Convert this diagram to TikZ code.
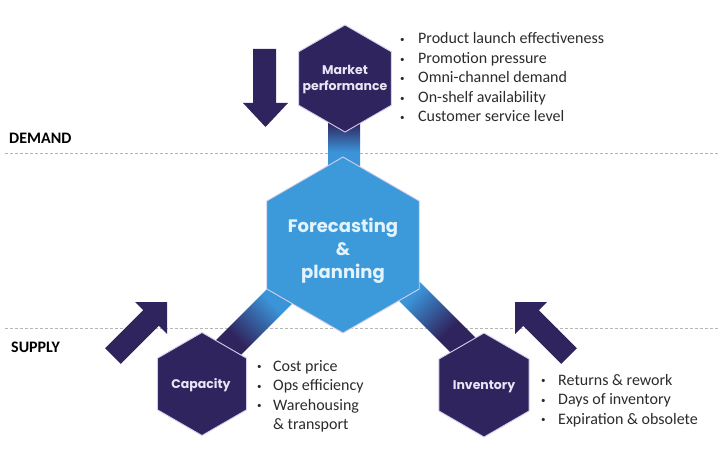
\documentclass[tikz,border=0pt]{standalone}
\usepackage{fontspec}
\setmainfont{Carlito}
\newfontfamily\hexfont{Poppins}
\usetikzlibrary{calc}
\definecolor{dpurple}{HTML}{30245E}
\definecolor{hexblue}{HTML}{3C9ADA}
\definecolor{stemblue}{HTML}{3B93D8}
\definecolor{hexline}{HTML}{D4CFEE}
\definecolor{txt}{HTML}{2B2B2B}
\definecolor{dashgray}{HTML}{B4B4B4}
\definecolor{paletxt}{HTML}{E9E5F5}
\definecolor{paleblue}{HTML}{E4F4FF}
\pgfdeclareverticalshading{bandshade}{100bp}{color(0bp)=(dpurple); color(36bp)=(dpurple); color(60bp)=(stemblue); color(100bp)=(stemblue)}
\pgfdeclareverticalshading{stemshade}{100bp}{color(0bp)=(stemblue); color(42bp)=(stemblue); color(66bp)=(dpurple); color(100bp)=(dpurple)}
\newcommand\smallbullet{\raisebox{1.2pt}{\fontsize{9}{9}\selectfont\textbullet}}
\begin{document}
\begin{tikzpicture}[x=1pt,y=-1pt,
  hexshape/.style={draw=hexline, line width=0.9pt},
  bigarrow/.style={fill=dpurple},
  sepline/.style={draw=dashgray, line width=0.9pt, dash pattern=on 3pt off 2pt},
  side/.style={font=\bfseries\fontsize{16}{19}\selectfont, text=black, anchor=base west, inner sep=0pt},
  item/.style={font=\fontsize{16}{19.5}\selectfont, text=txt, anchor=base west, inner sep=0pt},
  darklbl/.style={font=\hexfont\bfseries\fontsize{12.5}{16}\selectfont, text=paletxt, align=center, inner sep=0pt},
  bluelbl/.style={font=\hexfont\bfseries\fontsize{18}{23}\selectfont, text=paleblue, align=center, inner sep=0pt}
]
\useasboundingbox (0,0) rectangle (720,465);

% separators
\draw[sepline] (5,153) -- (720,153);
\draw[sepline] (5,328) -- (720,328);

% centres
\coordinate (mkt) at (345,78.5);
\coordinate (fc) at (343,245);
\coordinate (cap) at (202,384);
\coordinate (inv) at (484,385);

% gradient links
\shade[shading=stemshade] (328,112) rectangle (360,172);
\shade[shading=bandshade, shading angle=-45]
  (290.1,266.1) -- (309.9,285.9) -- (224.9,370.9) -- (205.1,351.1) -- cycle;
\shade[shading=bandshade, shading angle=45]
  (395.9,258.1) -- (376.1,277.9) -- (460.1,361.9) -- (479.9,342.1) -- cycle;

% hexagons
\fill[dpurple, hexshape] (mkt) +(90:53.5) -- +(30:53.5) -- +(-30:53.5) -- +(-90:53.5) -- +(-150:53.5) -- +(150:53.5) -- cycle;
\fill[hexblue, hexshape] (fc) +(90:88) -- +(30:88) -- +(-30:88) -- +(-90:88) -- +(-150:88) -- +(150:88) -- cycle;
\fill[dpurple, hexshape] (cap) +(90:51.5) -- +(30:51.5) -- +(-30:51.5) -- +(-90:51.5) -- +(-150:51.5) -- +(150:51.5) -- cycle;
\fill[dpurple, hexshape] (inv) +(90:52) -- +(30:52) -- +(-30:52) -- +(-90:52) -- +(-150:52) -- +(150:52) -- cycle;

% big arrows
\fill[bigarrow] (253,49) -- (276,49) -- (276,103) -- (288,103) -- (265.5,127) -- (243,103) -- (253,103) -- cycle;
\fill[bigarrow] (167,302) -- (135,302) -- (143.2,310.2) -- (105.2,348.2) -- (120.8,363.8) -- (158.8,325.8) -- (167,334) -- cycle;
\fill[bigarrow] (515,302) -- (547,302) -- (538.8,310.2) -- (576.8,348.2) -- (561.2,363.8) -- (523.2,325.8) -- (515,334) -- cycle;

% hexagon labels
\node[darklbl] (mktlbl) at (345,80) {Market\\performance};
\node[bluelbl] (fclbl) at (343,251) {Forecasting\\\&\\planning};
\node[darklbl, anchor=base] (caplbl) at (201,388) {Capacity};
\node[darklbl, anchor=base] (invlbl) at (484,389) {Inventory};

% side labels
\node[side] (demand) at (9,144) {DEMAND};
\node[side] (supply) at (11,352) {SUPPLY};

% bullet lists
\foreach \t [count=\i] in {Product launch effectiveness, Promotion pressure, Omni-channel demand, On-shelf availability, Customer service level}
  \node[item] (m\i) at (400,{44+19.5*(\i-1)}) {\makebox[18pt][l]{\smallbullet}\t};
\foreach \t [count=\i] in {Cost price, Ops efficiency, Warehousing}
  \node[item] (c\i) at (257,{371+19.5*(\i-1)}) {\makebox[16pt][l]{\smallbullet}\t};
\node[item] (c4) at (273,429.5) {\& transport};
\foreach \t [count=\i] in {Returns \& rework, Days of inventory, Expiration \& obsolete}
  \node[item] (i\i) at (541,{385+19.5*(\i-1)}) {\makebox[17pt][l]{\smallbullet}\t};
\end{tikzpicture}
\end{document}
